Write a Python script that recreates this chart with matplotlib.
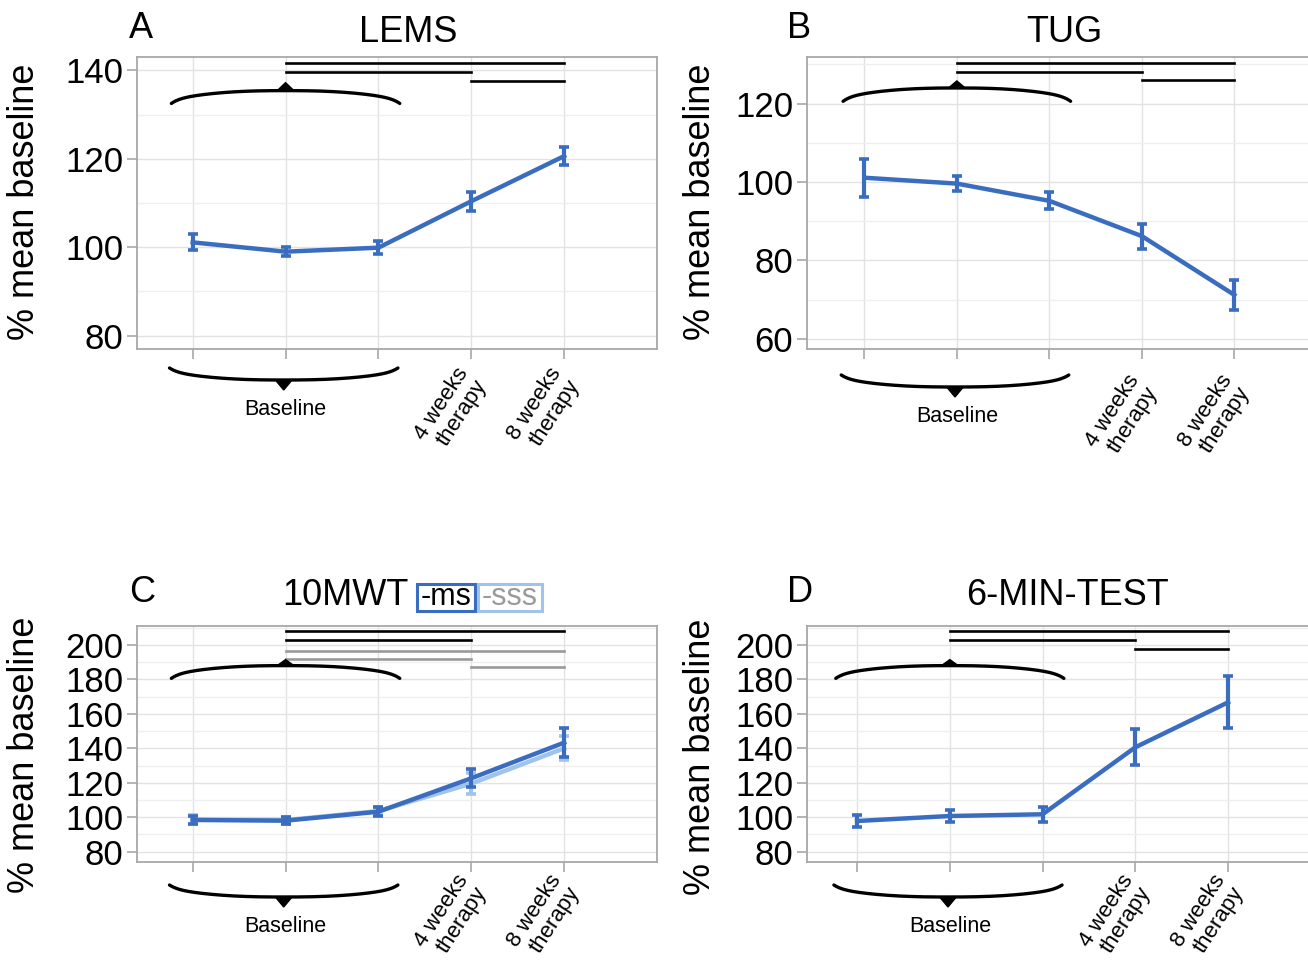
import numpy as np
import matplotlib
matplotlib.use('Agg')
import matplotlib.pyplot as plt
from matplotlib import transforms
from matplotlib.patches import Polygon, Rectangle

plt.rcParams['font.family'] = ['Liberation Sans', 'DejaVu Sans']

# ---------------- data ----------------
timepoints = [1, 2, 3, 4, 5]
baseline_label = 'Baseline'
therapy_labels = ['4 weeks\ntherapy', '8 weeks\ntherapy']
therapy_x = [4, 5]

lems_mean = [101.1, 99.0, 99.9, 110.4, 120.6]
lems_err = [1.8, 1.0, 1.4, 2.1, 2.1]

tug_mean = [101.1, 99.6, 95.2, 86.2, 71.2]
tug_err = [4.9, 2.0, 2.2, 3.2, 3.8]

mwt_ms_mean = [98.4, 98.0, 103.2, 122.6, 143.3]
mwt_ms_err = [2.5, 2.0, 2.6, 5.3, 8.2]
mwt_sss_mean = [98.6, 98.3, 103.6, 119.5, 140.0]
mwt_sss_err = [2.4, 2.0, 2.6, 6.0, 7.0]

six_mean = [97.8, 100.7, 101.7, 140.6, 166.7]
six_err = [3.4, 3.2, 4.2, 10.4, 15.0]

# significance bars: (from, to, level)
lems_sig = [(2, 5, 141.6), (2, 4, 139.6), (4, 5, 137.6)]
tug_sig = [(2, 5, 130.4), (2, 4, 128.2), (4, 5, 126.0)]
mwt_sig_ms = [(2, 5, 208.1), (2, 4, 202.7)]
mwt_sig_sss = [(2, 5, 196.7), (2, 4, 191.7), (4, 5, 187.4)]
six_sig = [(2, 5, 208.1), (2, 4, 202.9), (4, 5, 197.7)]

BLUE = '#3a6dc0'
LIGHT = '#9fc3ea'
SPINE = '#a8a8a8'

W, H = 1308, 966
fig = plt.figure(figsize=(W / 100, H / 100), dpi=100)
fig.patch.set_facecolor('white')


def ax_px(left, top, right, bottom):
    return fig.add_axes([left / W, 1 - bottom / H, (right - left) / W, (bottom - top) / H])


def ftext(x, y, s, **kw):
    return fig.text(x / W, 1 - y / H, s, **kw)


def style(ax, xlim, ylim, yticks, yminor):
    ax.set_xlim(*xlim)
    ax.set_ylim(*ylim)
    ax.set_facecolor('white')
    for s in ax.spines.values():
        s.set_color(SPINE)
        s.set_linewidth(1.3)
    ax.set_xticks(timepoints)
    ax.set_xticklabels([])
    ax.set_yticks(yticks)
    ax.set_yticks(yminor, minor=True)
    ax.tick_params(axis='both', which='major', color=SPINE, length=7, width=1.2,
                   labelsize=25, pad=3)
    ax.tick_params(axis='y', which='minor', length=0)
    ax.grid(True, which='major', color='#e2e2e2', lw=1.0)
    ax.grid(True, which='minor', axis='y', color='#efefef', lw=0.9)
    ax.set_axisbelow(True)


def brace_xy(x0, x1, y_end, y_mid, n=300):
    xs = np.linspace(x0, x1, n)
    xc = (x0 + x1) / 2
    hw = (x1 - x0) / 2
    u = np.abs(xs - xc) / hw
    frac = 0.7 * u ** 2.5 + 0.3 * u ** 15
    return xs, y_mid + (y_end - y_mid) * frac


def top_brace(ax, y_end, y_mid, y_peak, x0=0.77, x1=3.23):
    xs, ys = brace_xy(x0, x1, y_end, y_mid)
    ax.plot(xs, ys, color='black', lw=2.4, solid_capstyle='round', clip_on=False, zorder=5)
    xc = (x0 + x1) / 2
    d = 0.09
    ax.add_patch(Polygon([(xc - d, y_mid), (xc, y_peak), (xc + d, y_mid)],
                         closed=True, fc='black', ec='black', lw=1, zorder=5, clip_on=False))


def bottom_stuff(ax, shift, rot_shift, x0=0.75, x1=3.21):
    hpx = ax.bbox.height
    tr = transforms.blended_transform_factory(ax.transData, ax.transAxes)
    f = lambda px: -(px + shift) / hpx
    xs, ys = brace_xy(x0, x1, f(19), f(31))
    ax.plot(xs, ys, color='black', lw=2.4, transform=tr, clip_on=False,
            solid_capstyle='round')
    xc = (x0 + x1) / 2
    d = 0.09
    ax.add_patch(Polygon([(xc - d, f(31)), (xc, f(41)), (xc + d, f(31))], closed=True,
                         fc='black', ec='black', lw=1, transform=tr, clip_on=False))
    ax.text(2, f(61), baseline_label, transform=tr, ha='center', va='center', fontsize=15.5)
    for x, lab in zip(therapy_x, therapy_labels):
        ax.text(x - 0.17, -(15 + rot_shift) / hpx, lab, transform=tr, ha='right', va='top',
                rotation=57, rotation_mode='anchor', fontsize=16, linespacing=1.05)


def sig(ax, bars, color):
    for a, b, y in bars:
        ax.plot([a, b], [y, y], color=color, lw=1.9, clip_on=False, zorder=4)


def series(ax, mean, err, color, z=3):
    ax.errorbar(timepoints, mean, yerr=err, color=color, lw=3.2, elinewidth=3.0,
                capsize=3.6, capthick=2.6, zorder=z)


# ---------------- A: LEMS ----------------
axA = ax_px(137, 57, 657, 349)
style(axA, (0.4, 6.0), (77.0, 143.0), [80, 100, 120, 140], [90, 110, 130])
series(axA, lems_mean, lems_err, BLUE)
sig(axA, lems_sig, 'black')
top_brace(axA, 132.5, 135.4, 137.2)
bottom_stuff(axA, 0, 0)

# ---------------- B: TUG ----------------
axB = ax_px(807, 57, 807 + 5.62 * 92.5, 349)
style(axB, (0.38, 6.0), (57.4, 131.9), [60, 80, 100, 120], [70, 90, 110, 130])
series(axB, tug_mean, tug_err, BLUE)
sig(axB, tug_sig, 'black')
top_brace(axB, 120.6, 124.0, 125.8)
bottom_stuff(axB, 7, 7)

# ---------------- C: 10MWT ----------------
axC = ax_px(137, 626, 657, 862)
style(axC, (0.4, 6.0), (74.0, 211.0), list(range(80, 201, 20)), list(range(90, 211, 20)))
series(axC, mwt_sss_mean, mwt_sss_err, LIGHT, z=3)
series(axC, mwt_ms_mean, mwt_ms_err, BLUE, z=4)
sig(axC, mwt_sig_ms, 'black')
sig(axC, mwt_sig_sss, '#9a9a9a')
top_brace(axC, 180.6, 188.0, 191.5)
bottom_stuff(axC, 4, -6)

# ---------------- D: 6-MIN-TEST ----------------
axD = ax_px(807, 626, 807 + 5.54 * 92.75, 862)
style(axD, (0.46, 6.0), (74.0, 211.0), list(range(80, 201, 20)), list(range(90, 211, 20)))
series(axD, six_mean, six_err, BLUE)
sig(axD, six_sig, 'black')
top_brace(axD, 180.6, 188.0, 191.5)
bottom_stuff(axD, 4, -6)

# ---------------- titles, letters, labels ----------------
ftext(408, 42, 'LEMS', ha='center', va='baseline', fontsize=26)
ftext(1064, 42, 'TUG', ha='center', va='baseline', fontsize=26)
ftext(345, 605, '10MWT', ha='center', va='baseline', fontsize=26)
ftext(1068, 605, '6-MIN-TEST', ha='center', va='baseline', fontsize=26)

for x, y, s in [(129, 38, 'A'), (787, 38, 'B'), (129, 602, 'C'), (787, 602, 'D')]:
    ftext(x, y, s, ha='left', va='baseline', fontsize=26)

for x, y in [(25, 202), (700, 202), (25, 755), (700, 757)]:
    ftext(x, y, '% mean baseline', rotation=90, ha='center', va='center', fontsize=26)

# legend boxes for 10MWT
fig.add_artist(Rectangle((417 / W, 1 - 611 / H), 58 / W, 27 / H, transform=fig.transFigure,
                         fill=False, ec=BLUE, lw=2.2))
ftext(446, 605, '-ms', ha='center', va='baseline', fontsize=22, color='black')
fig.add_artist(Rectangle((478 / W, 1 - 611 / H), 64 / W, 27 / H, transform=fig.transFigure,
                         fill=False, ec=LIGHT, lw=2.2))
ftext(510, 605, '-sss', ha='center', va='baseline', fontsize=22, color='#9a9a9a')

fig.savefig('out.png', dpi=100, facecolor='white')
